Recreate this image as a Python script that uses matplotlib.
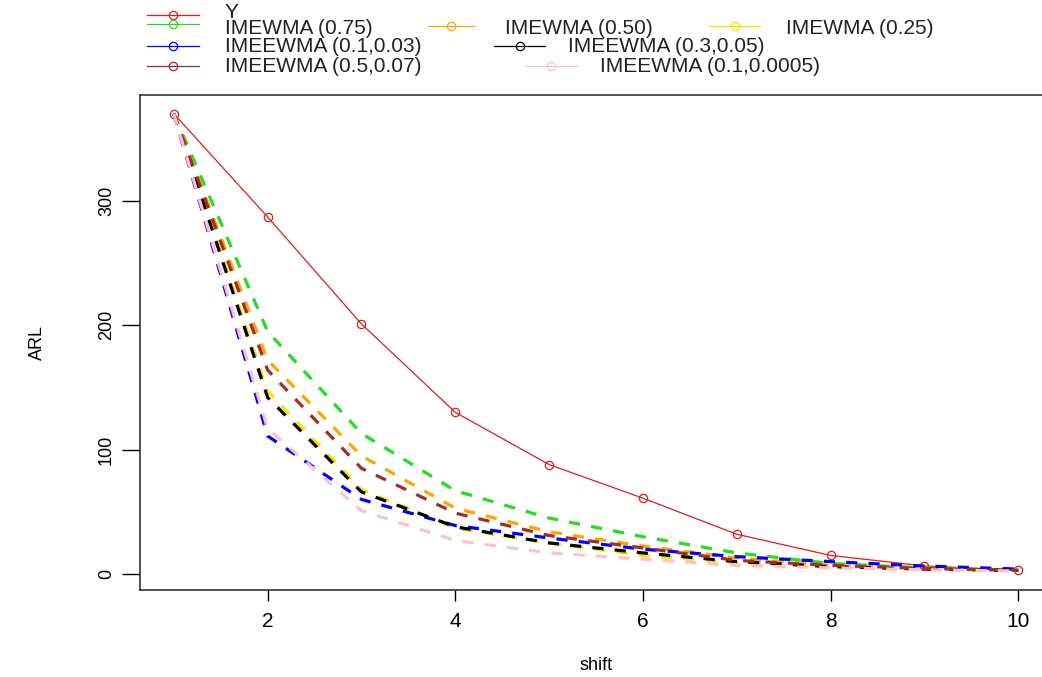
"""ARL curves vs shift (R base-graphics look)."""
import numpy as np
import matplotlib
matplotlib.use("Agg")
import matplotlib.pyplot as plt  # noqa: E402
from matplotlib.lines import Line2D  # noqa: E402

plt.rcParams["font.family"] = ["Liberation Sans", "DejaVu Sans"]

# ---- data ----
shift = [1, 2, 3, 4, 5, 6, 7, 8, 9, 10]
arl_y = [370, 287, 201, 130, 88, 61, 32, 15, 6.5, 3]
arl_imewma_075 = [370, 195, 113, 67, 45, 30, 17, 8.5, 5, 3]
arl_imewma_050 = [370, 172, 95, 53, 34, 22.5, 13, 7, 4.5, 3]
arl_imewma_025 = [370, 147, 68, 37, 25, 15, 9, 5.5, 4, 3]
arl_imeewma_1 = [370, 111, 60, 39, 29, 20, 14, 10, 6.5, 4]
arl_imeewma_2 = [370, 142, 66, 38, 25, 17, 10, 6, 4, 3]
arl_imeewma_3 = [370, 164, 85, 49, 31, 21, 11, 7, 4.5, 3]
arl_imeewma_4 = [370, 117, 51, 27, 17, 12, 7, 5, 3.5, 2.5]

labels = ["Y", "IMEWMA (0.75)", "IMEWMA (0.50)", "IMEWMA (0.25)",
          "IMEEWMA (0.1,0.03)", "IMEEWMA (0.3,0.05)",
          "IMEEWMA (0.5,0.07)", "IMEEWMA (0.1,0.0005)"]
series = [arl_y, arl_imewma_075, arl_imewma_050, arl_imewma_025,
          arl_imeewma_1, arl_imeewma_2, arl_imeewma_3, arl_imeewma_4]
colors = ["#d81e1e", "#22dd22", "#ffa500", "#f2e600",
          "#0000ff", "#000000", "#a52a2a", "#ffc0cb"]

# legend placement in pixels: (line x0, line x1, line y, text x, text y)
LEG_POS = [(147, 199, 15, 225, 12),
           (147, 199, 24, 225, 29),
           (428, 474, 26, 505, 29),
           (709, 760, 26, 786, 29),
           (147, 199, 46, 225, 47),
           (494, 545, 46, 568, 47),
           (147, 199, 66, 225, 67),
           (525, 577, 66, 600, 67)]

W, H = 1042, 677
fig = plt.figure(figsize=(W / 100, H / 100), dpi=100)
ax = fig.add_axes([140 / W, (H - 590) / H, (1052 - 140) / W, (590 - 95) / H])


def px(x, y):
    return x / W, 1 - y / H


# red reference curve, then the dashed charts
ax.plot(shift, series[0], color=colors[0], lw=0.9, marker="o", ms=6,
        mfc="none", mew=0.9, zorder=2)
for vals, col in zip(series[1:], colors[1:]):
    ax.plot(shift, vals, color=col, lw=2.3, ls=(0, (3.5, 3.5)), zorder=3)

ax.set_xlim(0.64, 10.36)
ax.set_ylim(-12.8, 385)
ax.set_xticks([2, 4, 6, 8, 10])
ax.set_yticks([0, 100, 200, 300])
ax.tick_params(axis="x", length=8, width=1, pad=8, labelsize=15)
ax.tick_params(axis="y", length=13, width=1, pad=5, labelsize=13)
for t in ax.get_yticklabels():
    t.set_rotation(90)
    t.set_va("center")
for s in ax.spines.values():
    s.set_linewidth(1.1)
    s.set_color("#222222")

ax.set_xlabel("shift", fontsize=13)
ax.xaxis.set_label_coords(0.5, -(666 - 590) / (590 - 95))
ax.xaxis.label.set_va("center")
ax.set_ylabel("ARL", fontsize=13)
ax.yaxis.set_label_coords(-(140 - 37) / (1052 - 140), 0.5)
ax.yaxis.label.set_va("center")

# legend drawn above the plot region, R style
for lab, col, (x0, x1, ly, tx, ty) in zip(labels, colors, LEG_POS):
    (a0, b0), (a1, _) = px(x0, ly), px(x1, ly)
    fig.add_artist(Line2D([a0, a1], [b0, b0], color=col, lw=0.9,
                          transform=fig.transFigure))
    fig.add_artist(Line2D([(a0 + a1) / 2], [b0], color=col, marker="o",
                          ms=6, mfc="none", mew=0.9,
                          transform=fig.transFigure))
    fx, fy = px(tx, ty)
    fig.text(fx, fy, lab, fontsize=15, color="#222222", va="center",
             ha="left")

fig.savefig("out.png", dpi=100)
